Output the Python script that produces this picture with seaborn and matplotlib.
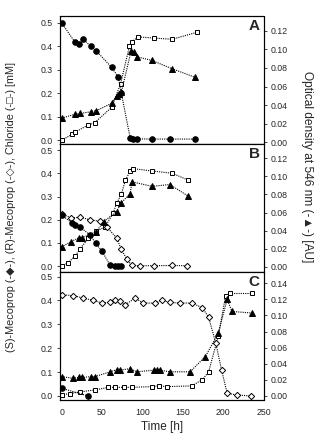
import matplotlib
matplotlib.use("Agg")
import matplotlib.pyplot as plt
import seaborn as sns
import pandas as pd

sns.set_style("white")
plt.rcParams['font.family'] = ['Liberation Sans', 'DejaVu Sans']

# ---------------- data ----------------
# Panel A : (S)-mecoprop
a_s_t = [0, 16, 21, 27, 36, 43, 62, 70, 74, 85, 89, 93, 112, 134, 165]
a_s_v = [0.50, 0.42, 0.41, 0.43, 0.40, 0.38, 0.31, 0.27, 0.20, 0.008, 0.006, 0.006, 0.005, 0.005, 0.005]
a_cl_t = [0, 13, 17, 33, 41, 62, 73, 84, 87, 95, 114, 137, 168]
a_cl_v = [0.0, 0.025, 0.035, 0.065, 0.075, 0.14, 0.24, 0.40, 0.42, 0.44, 0.435, 0.43, 0.46]
a_od_t = [0, 16, 23, 37, 43, 62, 68, 71, 74, 86, 90, 93, 112, 137, 165]
a_od_v = [0.026, 0.030, 0.031, 0.033, 0.034, 0.042, 0.050, 0.052, 0.054, 0.098, 0.097, 0.092, 0.088, 0.079, 0.070]

# Panel B : racemic mecoprop
b_s_t = [0, 13, 17, 23, 35, 42, 50, 60, 66, 70, 74]
b_s_v = [0.22, 0.186, 0.178, 0.168, 0.135, 0.10, 0.064, 0.005, 0.0, 0.0, 0.0]
b_r_t = [0, 12, 23, 35, 48, 56, 68, 74, 81, 87, 97, 114, 137, 155]
b_r_v = [0.226, 0.207, 0.211, 0.20, 0.193, 0.169, 0.122, 0.072, 0.029, 0.003, 0.002, 0.002, 0.003, 0.002]
b_cl_t = [0, 8, 17, 23, 33, 43, 54, 64, 68, 74, 79, 85, 88, 112, 137, 157]
b_cl_v = [0.0, 0.015, 0.045, 0.075, 0.12, 0.15, 0.17, 0.23, 0.27, 0.31, 0.37, 0.41, 0.42, 0.41, 0.40, 0.37]
b_od_t = [0, 12, 21, 25, 43, 52, 68, 74, 85, 87, 112, 134, 157]
b_od_v = [0.022, 0.028, 0.032, 0.032, 0.039, 0.050, 0.061, 0.071, 0.081, 0.094, 0.089, 0.091, 0.078]

# Panel C : (R)-mecoprop
c_s_t = [0, 33]
c_s_v = [0.032, 0.0]
c_r_t = [0, 14, 27, 39, 50, 60, 66, 72, 79, 91, 101, 116, 124, 134, 147, 161, 174, 182, 191, 198, 205, 217, 234]
c_r_v = [0.424, 0.42, 0.41, 0.40, 0.389, 0.392, 0.403, 0.396, 0.382, 0.41, 0.389, 0.389, 0.40, 0.392,
         0.389, 0.389, 0.37, 0.33, 0.22, 0.11, 0.011, 0.004, 0.0]
c_cl_t = [0, 10, 23, 41, 58, 66, 77, 87, 112, 120, 130, 161, 174, 182, 194, 203, 209, 236]
c_cl_v = [0.004, 0.01, 0.017, 0.025, 0.036, 0.036, 0.036, 0.036, 0.039, 0.042, 0.039, 0.042,
          0.067, 0.10, 0.25, 0.417, 0.429, 0.429]
c_od_t = [0, 14, 21, 25, 37, 41, 60, 68, 72, 85, 93, 114, 118, 122, 134, 159, 178, 194, 205, 211, 236]
c_od_v = [0.024, 0.022, 0.023, 0.023, 0.024, 0.024, 0.030, 0.0325, 0.032, 0.034, 0.030, 0.032,
          0.0325, 0.032, 0.030, 0.030, 0.049, 0.078, 0.12, 0.105, 0.103]

panel_letters = ["A", "B", "C"]
left_ticks = [0.0, 0.1, 0.2, 0.3, 0.4, 0.5]
right_ticks_ab = [0.00, 0.02, 0.04, 0.06, 0.08, 0.10, 0.12]
right_ticks_c = [0.00, 0.02, 0.04, 0.06, 0.08, 0.10, 0.12, 0.14]
x_ticks = [0, 50, 100, 150, 200, 250]

panels = [
    dict(S=(a_s_t, a_s_v), R=None, Cl=(a_cl_t, a_cl_v), OD=(a_od_t, a_od_v),
         lyl=(-0.016, 0.529), ryl=(-0.0018, 0.1358), rt=right_ticks_ab),
    dict(S=(b_s_t, b_s_v), R=(b_r_t, b_r_v), Cl=(b_cl_t, b_cl_v), OD=(b_od_t, b_od_v),
         lyl=(-0.025, 0.526), ryl=(-0.0057, 0.1358), rt=right_ticks_ab),
    dict(S=(c_s_t, c_s_v), R=(c_r_t, c_r_v), Cl=(c_cl_t, c_cl_v), OD=(c_od_t, c_od_v),
         lyl=(-0.017, 0.519), ryl=(-0.005, 0.154), rt=right_ticks_c),
]

W, H = 327, 447
fig = plt.figure(figsize=(W / 100, H / 100), dpi=100)
left, right = 60 / W, 263.5 / W
top_px, h_px = 16, 128

line_kw = dict(color='black', linestyle=(0, (1, 1)), linewidth=0.8)
tick_fs = 6.3
spine_ls = (0, (1, 1))

for i, p in enumerate(panels):
    y0 = 1 - (top_px + (i + 1) * h_px) / H
    ax = fig.add_axes([left, y0, right - left, h_px / H])
    ax2 = ax.twinx()

    def draw(a, data, marker, mfc, ms):
        if data is None:
            return
        df = pd.DataFrame({'t': data[0], 'v': data[1]})
        sns.lineplot(data=df, x='t', y='v', ax=a, sort=False, marker=marker,
                     markerfacecolor=mfc, markeredgecolor='black', markeredgewidth=0.7,
                     markersize=ms, **line_kw)

    draw(ax, p['Cl'], 's', 'white', 3.3)
    draw(ax, p['R'], 'D', 'white', 3.2)
    draw(ax, p['S'], 'o', 'black', 4.0)
    draw(ax2, p['OD'], '^', 'black', 4.0)

    ax.set_xlim(-2, 250)
    ax.set_ylim(*p['lyl'])
    ax2.set_ylim(*p['ryl'])
    ax.set_yticks(left_ticks)
    ax.set_yticklabels([f"{v:.1f}" for v in left_ticks], fontsize=tick_fs)
    ax2.set_yticks(p['rt'])
    ax2.set_yticklabels([f"{v:.2f}" for v in p['rt']], fontsize=tick_fs)
    ax.set_xticks(x_ticks)
    ax.set_xlabel("")
    ax.set_ylabel("")
    ax2.set_ylabel("")
    if i < 2:
        ax.tick_params(axis='x', direction='in', length=2.5, width=0.6, labelbottom=False)
    else:
        ax.set_xticklabels([str(v) for v in x_ticks], fontsize=tick_fs)
        ax.tick_params(axis='x', direction='out', length=2.5, width=0.6, pad=3)
        ax.set_xlabel("Time [h]", fontsize=8.5, labelpad=3)
    ax.tick_params(axis='y', direction='out', length=2.5, width=0.6, pad=2.5, left=True)
    ax2.tick_params(axis='y', direction='out', length=2.5, width=0.6, pad=2.5, right=True)

    for a in (ax, ax2):
        for s in a.spines.values():
            s.set_linestyle(spine_ls)
            s.set_linewidth(0.8)
            s.set_color('black')
    ax.text(0.955, 0.92, panel_letters[i], transform=ax.transAxes, fontsize=11,
            fontweight='bold', ha='center', va='center')

fig.text(11.5 / W, 1 - 207 / H,
         "(S)-Mecoprop (-\u25c6-), (R)-Mecoprop (-\u25c7-), Chloride (-\u25a1-) [mM]",
         rotation=90, ha='center', va='center', fontsize=7.8)
fig.text(307 / W, 1 - 167 / H, "Optical density at 546 nm (-\u25b2-) [AU]",
         rotation=270, ha='center', va='center', fontsize=8.6)

fig.savefig("out.png", dpi=100)
